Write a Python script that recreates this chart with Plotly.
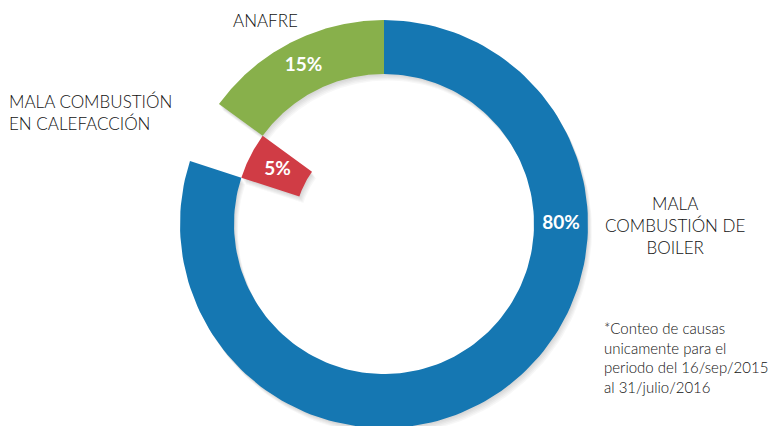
import numpy as np
import plotly.graph_objects as go

# ---- data (clockwise from 12 o'clock) ----
categories = ["MALA COMBUSTIÓN DE BOILER", "MALA COMBUSTIÓN EN CALEFACCIÓN", "ANAFRE"]
values = [80, 5, 15]
pct_labels = ["80%", "5%", "15%"]
category_labels = ["MALA<br>COMBUSTIÓN DE<br>BOILER", "MALA COMBUSTIÓN<br>EN CALEFACCIÓN", "ANAFRE"]
note_lines = ["*Conteo de causas", "unicamente para el", "periodo del 16/sep/2015", "al 31/julio/2016"]

# ---- style ----
colors = ["#1577B2", "#D03C45", "#88B04B"]
inner_r = [150, 89, 150]
outer_r = [204, 150, 204]
label_angle = [90, None, None]  # None -> middle of the slice
W, H = 780, 426
CX, CY = 384, 224  # centre of ring in pixels (from top-left)
FONT = "Lato, 'Open Sans', sans-serif"
TXT = "#111111"


def px(x, y):
    return x - CX, CY - y


def wedge(a0, a1, r0, r1, dx=0.0, dy=0.0):
    t = np.radians(np.linspace(a0, a1, 160))
    xo, yo = r1 * np.sin(t), r1 * np.cos(t)
    xi, yi = r0 * np.sin(t[::-1]), r0 * np.cos(t[::-1])
    xs = np.concatenate([xo, xi, xo[:1]]) + dx
    ys = np.concatenate([yo, yi, yo[:1]]) + dy
    return xs, ys


total = float(sum(values))
ends = np.cumsum(values) / total * 360.0
starts = np.concatenate([[0.0], ends[:-1]])

fig = go.Figure()

# soft drop shadow
for k in range(1, 6):
    for a0, a1, r0, r1 in zip(starts, ends, inner_r, outer_r):
        xs, ys = wedge(a0, a1, r0, r1, dx=0.8 * k, dy=-1.3 * k)
        fig.add_trace(go.Scatter(x=xs, y=ys, mode="lines", fill="toself",
                                 fillcolor="rgba(0,0,0,0.03)", line=dict(width=0),
                                 hoverinfo="skip", showlegend=False))

for cat, v, a0, a1, r0, r1, c in zip(categories, values, starts, ends, inner_r, outer_r, colors):
    xs, ys = wedge(a0, a1, r0, r1)
    fig.add_trace(go.Scatter(x=xs, y=ys, mode="lines", fill="toself", fillcolor=c,
                             line=dict(width=0, color=c), name=cat,
                             hoverinfo="text", text=f"{cat}: {v}%", showlegend=False))

# percentage labels
mid = np.array([la if la is not None else (s + e) / 2
                for la, s, e in zip(label_angle, starts, ends)])
mid = np.radians(mid)
rm = (np.array(inner_r) + np.array(outer_r)) / 2
fig.add_trace(go.Scatter(
    x=rm * np.sin(mid), y=rm * np.cos(mid), mode="text", text=pct_labels,
    textfont=dict(family=FONT, size=19, color="white", weight="bold"),
    textposition="middle center", hoverinfo="skip", showlegend=False))

ann = []
x, y = px(675, 225)
ann.append(dict(x=x, y=y, text=category_labels[0], showarrow=False, xanchor="center",
                yanchor="middle", align="center",
                font=dict(family=FONT, size=17, color=TXT, weight=300)))
x, y = px(7, 112)
ann.append(dict(x=x, y=y, text=category_labels[1], showarrow=False, xanchor="left",
                yanchor="middle", align="left",
                font=dict(family=FONT, size=17, color=TXT, weight=300)))
x, y = px(265, 20)
ann.append(dict(x=x, y=y, text=category_labels[2], showarrow=False, xanchor="center",
                yanchor="middle", align="center",
                font=dict(family=FONT, size=17, color=TXT, weight=300)))
x, y = px(602, 357)
ann.append(dict(x=x, y=y, text="<br>".join(note_lines), showarrow=False, xanchor="left",
                yanchor="middle", align="left",
                font=dict(family=FONT, size=15, color=TXT, weight=300)))

fig.update_layout(
    width=W, height=H, margin=dict(l=0, r=0, t=0, b=0),
    paper_bgcolor="white", plot_bgcolor="white",
    xaxis=dict(range=[-CX, W - CX], visible=False, fixedrange=True),
    yaxis=dict(range=[CY - H, CY], visible=False, fixedrange=True),
    annotations=ann, showlegend=False,
)

fig.write_html("out.html", config={"displayModeBar": False},
               post_script="document.body.style.margin='0px';document.body.style.overflow='hidden';")
